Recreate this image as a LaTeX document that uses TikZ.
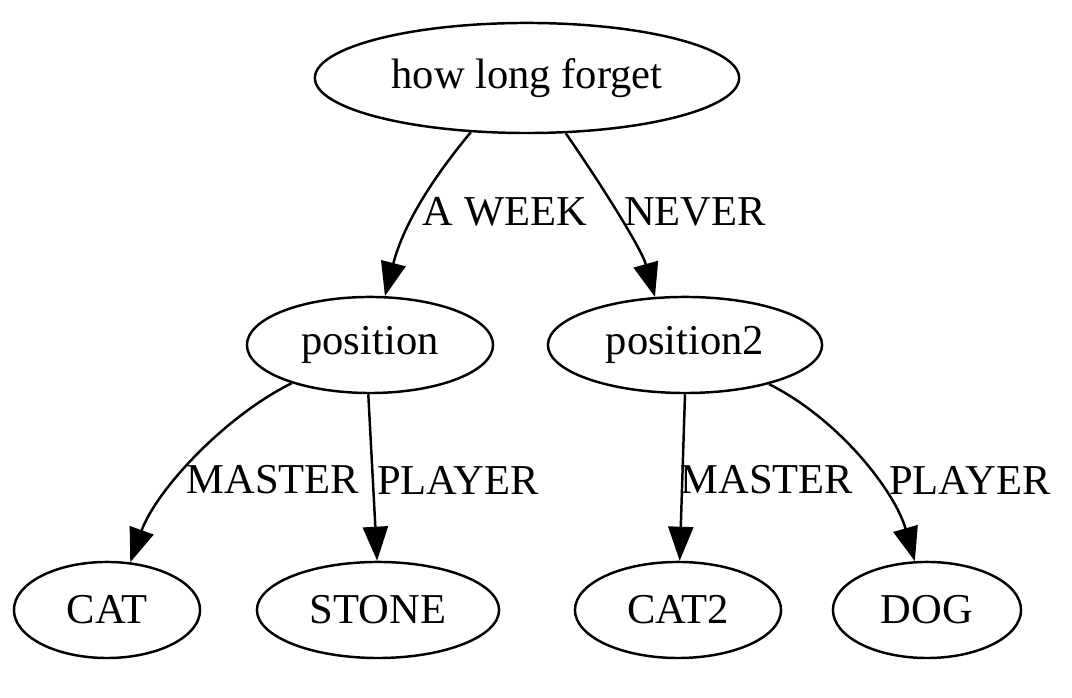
\documentclass[tikz,border=0pt]{standalone}
\usepackage{fontspec}
\setmainfont{Liberation Serif}
\usetikzlibrary{shapes.geometric,arrows.meta}
\begin{document}
\begin{tikzpicture}[x=0.01cm,y=-0.01cm,
  nd/.style={draw,ellipse,inner sep=0pt,line width=0.7pt,font=\fontsize{12.1}{14}\selectfont},
  ed/.style={line width=0.7pt,-{Triangle[length=3.4mm,width=2.5mm]}},
  lb/.style={font=\fontsize{12.1}{14}\selectfont,inner sep=0pt}]
\useasboundingbox (0,0) rectangle (1072,698);
\node[nd,minimum width=4.24cm,minimum height=1.1cm] (top) at (527,78) {how long forget};
\node[nd,minimum width=2.46cm,minimum height=0.96cm] (pos) at (370,345) {position};
\node[nd,minimum width=2.74cm,minimum height=0.96cm] (pos2) at (685,345) {position2};
\node[nd,minimum width=1.86cm,minimum height=0.96cm] (cat) at (107,610) {CAT};
\node[nd,minimum width=2.42cm,minimum height=0.96cm] (stone) at (378,610) {STONE};
\node[nd,minimum width=2.06cm,minimum height=0.96cm] (cat2) at (678,610) {CAT2};
\node[nd,minimum width=1.88cm,minimum height=0.96cm] (dog) at (927,610) {DOG};
\draw[ed] (top.224) .. controls +(-40,48) and +(18,-70) .. (pos.73);
\draw[ed] (top.305) .. controls +(28,40) and +(-14,-50) .. (pos2.122);
\draw[ed] (pos.206) .. controls +(-70,35) and +(25,-70) .. (cat.64);
\draw[ed] (pos.268) -- (stone.91);
\draw[ed] (pos2.270) -- (cat2.88);
\draw[ed] (pos2.335) .. controls +(70,35) and +(-20,-70) .. (dog.104);
\node[lb] (l1) at (505,212) {A WEEK};
\node[lb] (l2) at (695,212) {NEVER};
\node[lb] (l3) at (273,480) {MASTER};
\node[lb] (l4) at (458,480) {PLAYER};
\node[lb] (l5) at (767,480) {MASTER};
\node[lb] (l6) at (970,480) {PLAYER};
\end{tikzpicture}
\end{document}
